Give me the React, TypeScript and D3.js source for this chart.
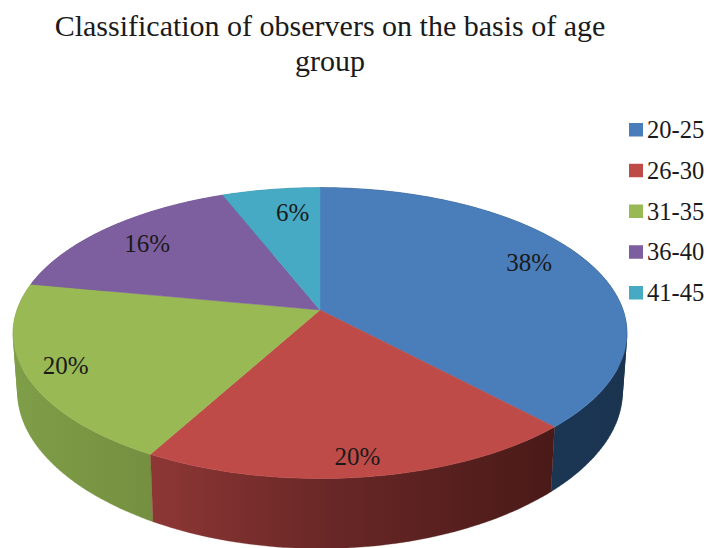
import React from "react";
import * as d3 from "d3";

const ageGroups = ["20-25", "26-30", "31-35", "36-40", "41-45"];
const shares = [38, 20, 20, 16, 6];
const topColors = ["#4a7ebb", "#be4b48", "#98b954", "#7d5fa0", "#46aac5"];
const titleLines = ["Classification of observers on the basis of age", "group"];
const labelRadii = [0.81, 0.895, 0.872, 0.8, 0.775];
const labelAngleShift = [-0.075, 0.007, 0.003, 0, 0.058];

const W = 707, H = 548;
const cx = 320, cy = 310, A = 303, B = 141.8, K = 0.1586;
const bottomScale = 0.985;

type P = [number, number];
function project(angle: number, r: number): P {
  const u = Math.sin(angle) * r, v = -Math.cos(angle) * r;
  const w = 1 - K * v;
  return [cx + (A * u) / w, cy + (B * v) / w];
}
function lower(p: P): P {
  const t = (p[1] - cy) / 168;
  return [cx + (p[0] - cx) * bottomScale, p[1] + 60 + 10 * t * t];
}

const pieGen = d3.pie<number>().sort(null).value((d) => d);
const arcs = pieGen(shares);
const line = d3.line();

function sample(a0: number, a1: number) {
  const n = Math.max(2, Math.ceil((a1 - a0) / 0.02));
  return d3.range(n + 1).map((i) => project(a0 + ((a1 - a0) * i) / n, 1));
}

function sideQuads(pts: P[]) {
  let d = "";
  for (let i = 0; i < pts.length - 1; i++) {
    const q: P[] = [pts[i], pts[i + 1], lower(pts[i + 1]), lower(pts[i])];
    const ordered = (d3.polygonArea(q) < 0 ? [...q].reverse() : q) as P[];
    d += line(ordered) + "Z";
  }
  return d;
}

const sideStops: [string, string][][] = [
  [["0%", "#1b3653"], ["100%", "#1a3450"]],
  [["0%", "#8d3735"], ["45%", "#682726"], ["100%", "#4a1a18"]],
  [["0%", "#7f9e48"], ["100%", "#758f40"]],
  [["0%", "#5a4474"], ["100%", "#5a4474"]],
  [["0%", "#2f7a90"], ["100%", "#2f7a90"]],
];
const sideRange: [number, number][] = [[550, 627], [152, 553], [13, 155], [13, 225], [225, 320]];

export default function App() {
  return (
    <svg width={W} height={H} style={{ position: "absolute", left: 0, top: 0, background: "#fff" }}
      fontFamily="'Liberation Serif', serif" fill="#1a1a1a">
      <defs>
        {sideStops.map((stops, i) => (
          <linearGradient key={i} id={`side${i}`} gradientUnits="userSpaceOnUse"
            x1={sideRange[i][0]} x2={sideRange[i][1]} y1={0} y2={0}>
            {stops.map(([o, c]) => <stop key={o} offset={o} stopColor={c} />)}
          </linearGradient>
        ))}
      </defs>
      {titleLines.map((t, i) => (
        <text key={t} x={330} y={36 + i * 35} textAnchor="middle" fontSize={30}>{t}</text>
      ))}
      {[3, 4, 0, 2, 1].map((i) => {
        const a = arcs[i];
        return <path key={i} d={sideQuads(sample(a.startAngle, a.endAngle))} fill={`url(#side${i})`}
          stroke={`url(#side${i})`} strokeWidth={0.3} />;
      })}
      {arcs.map((a, i) => {
        const pts = sample(a.startAngle, a.endAngle);
        return <path key={i} d={line([[cx, cy], ...pts])! + "Z"} fill={topColors[i]}
          stroke={topColors[i]} strokeWidth={0.5} />;
      })}
      {arcs.map((a, i) => {
        const [x, y] = project((a.startAngle + a.endAngle) / 2 + labelAngleShift[i], labelRadii[i]);
        return <text key={i} x={x} y={y + 8.5} textAnchor="middle" fontSize={25}>{shares[i]}%</text>;
      })}
      {ageGroups.map((g, i) => {
        const y = 123 + i * 40.75;
        return (
          <g key={g}>
            <rect x={629} y={y} width={14} height={13.5} fill={topColors[i]} />
            <text x={647} y={y + 15} fontSize={24.5}>{g}</text>
          </g>
        );
      })}
    </svg>
  );
}
